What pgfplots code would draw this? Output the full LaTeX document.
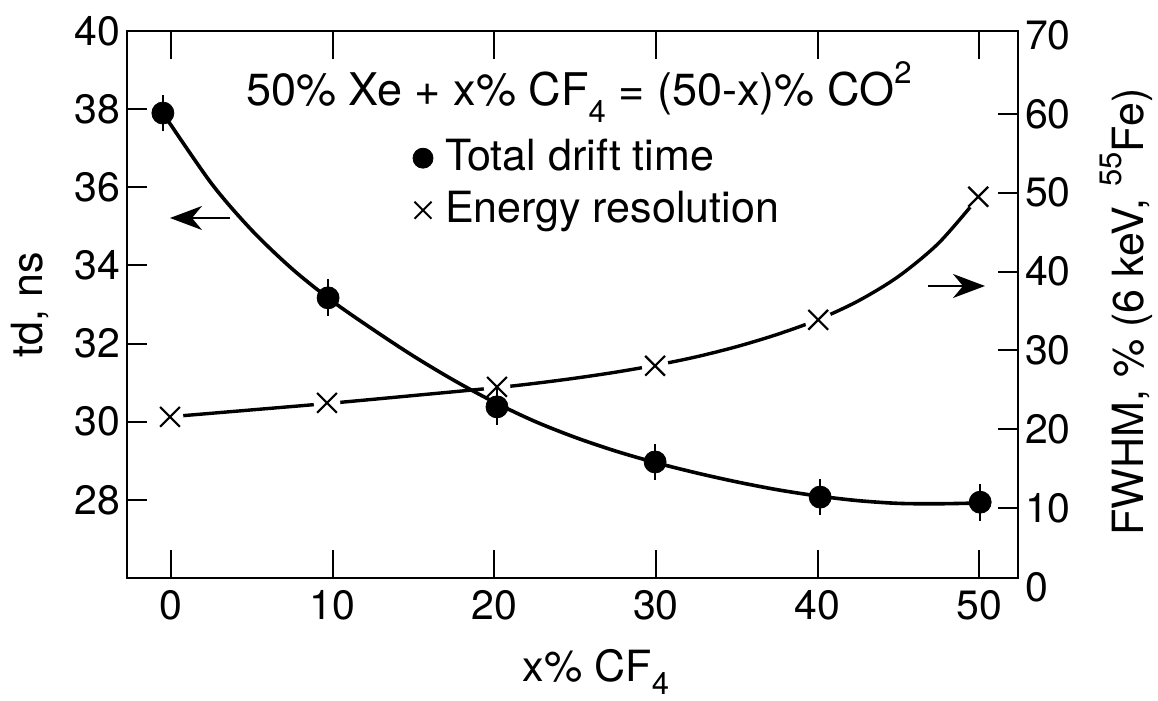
\documentclass[border=0pt]{standalone}
\usepackage{pgfplots}
\pgfplotsset{compat=1.18}
\usepackage{fontspec}
\setmainfont{TeX Gyre Heros}
\usetikzlibrary{arrows.meta}
\newcommand{\mysub}[1]{\raisebox{-0.36em}{\fontsize{15.5}{18}\selectfont #1}}
\newcommand{\mysup}[1]{\raisebox{0.5em}{\fontsize{15.5}{18}\selectfont #1}}
\begin{document}
\begin{tikzpicture}
\pgfplotsset{
  common/.style={
    scale only axis, width=445.5pt,
    xmin=-2.72, xmax=52.4,
    /pgf/number format/assume math mode=true,
    tick label style={font=\fontsize{20.5}{24}\selectfont},
    tick align=inside,
    tick style={line width=1pt, black},
  }
}
% ---------- right axis: energy resolution ----------
\begin{axis}[common, at={(0pt,-4.5pt)}, anchor=south west, height=276pt,
  ymin=0, ymax=70,
  axis line style={draw=none},
  xtick=\empty,
  ytick={10,20,...,60},
  extra y ticks={0,70},
  extra y tick style={tick style={draw=none}},
  ytick pos=right, yticklabel pos=right,
  major tick length=10pt,
  clip=false]
\addplot[black, line width=1.7pt, smooth] coordinates {
(-0.06,21.59) (5,22.46) (10,23.33) (15,24.28) (20,25.25) (22.5,25.82) (25,26.48)
(27.5,27.24) (30,28.13) (32.5,29.19) (35,30.48) (37.5,32.03) (40,33.88)
(42.5,36.26) (45,39.38) (47.5,43.63) (49.94,49.4)};
\addplot[white, only marks, mark=*, mark size=6.5pt, mark options={draw=white, fill=white}] coordinates {
(-0.06,21.57) (9.65,23.35) (20.17,25.38) (29.95,28.05) (40.04,33.88) (49.94,49.49)};
\addplot[black, only marks, mark=x, mark size=7pt, mark options={line width=1.1pt, black}] coordinates {
(-0.06,21.57) (9.65,23.35) (20.17,25.38) (29.95,28.05) (40.04,33.88) (49.94,49.49)};
\end{axis}
% ---------- left axis: total drift time ----------
\begin{axis}[common, at={(0pt,0pt)}, anchor=south west, height=273.5pt,
  ymin=26, ymax=40,
  ytick={28,30,...,40},
  xtick={0,10,...,50},
  ytick pos=left,
  axis line style={line width=1.1pt},
  xtick style={/pgfplots/major tick length=14pt},
  ytick style={/pgfplots/major tick length=10pt},
  xticklabel shift=2.5pt,
  legend style={at={(axis description cs:0.321,0.815)}, anchor=north west,
    draw=none, fill=none, inner sep=0pt, outer sep=0pt,
    nodes={inner sep=3pt, text height=16pt, text depth=4pt},
    /tikz/every odd column/.append style={column sep=3pt},
    font=\fontsize{21.5}{26}\selectfont},
  legend cell align=left,
  clip=false]
\addlegendimage{only marks, mark=*, mark size=5pt, black}
\addlegendentry{Total drift time}
\addlegendimage{only marks, mark=x, mark size=6pt, mark options={line width=1pt, black}}
\addlegendentry{Energy resolution}
\addplot[black, line width=1.8pt, smooth, forget plot] coordinates {
(-0.5,37.9) (2.5,36.1) (5,34.9) (7.5,33.91) (10,33.08) (12.5,32.36) (15,31.68)
(17.5,31.06) (20,30.5) (22.5,30.01) (25,29.6) (27.5,29.25) (30,28.95)
(32.5,28.69) (35,28.46) (37.5,28.26) (40,28.1) (42.5,27.98) (45,27.91)
(47.5,27.9) (50.06,27.92)};
\addplot[black, only marks, mark=*, mark size=5.5pt, forget plot,
  error bars/.cd, y dir=both, y explicit, error mark=none,
  error bar style={line width=1pt, black}] coordinates {
(-0.5,37.9) +- (0,0.47)
(9.72,33.17) +- (0,0.47)
(20.17,30.38) +- (0,0.47)
(29.95,28.97) +- (0,0.47)
(40.16,28.07) +- (0,0.47)
(50.06,27.94) +- (0,0.47)};
\end{axis}
% ---------- annotations ----------
\node[anchor=base, font=\fontsize{22.5}{27}\selectfont] at (226pt,236pt)
  {50\% Xe + x\% CF\mysub{4} = (50-x)\% CO\mysup{2}};
\draw[line width=1pt, -{Stealth[length=16pt,width=12pt,inset=5pt]}] (51.5pt,180pt) -- (21.5pt,180pt);
\draw[line width=1pt, -{Stealth[length=16pt,width=12pt,inset=5pt]}] (400.5pt,146pt) -- (429pt,146pt);
\node[rotate=90, anchor=base, font=\fontsize{21.5}{26}\selectfont] at (-42pt,136.75pt) {td, ns};
\node[rotate=90, anchor=base, font=\fontsize{21.5}{26}\selectfont] at (508pt,133pt)
  {FWHM, \% (6 keV, \mysup{55}Fe)};
\node[anchor=base, inner sep=0pt, font=\fontsize{21.5}{26}\selectfont] at (234.5pt,-52pt)
  {x\% CF\raisebox{-0.3em}{\fontsize{15.5}{18}\selectfont 4}};
\pgfresetboundingbox
\path[use as bounding box] (-63.5pt,-61.5pt) rectangle (515.5pt,289pt);
\end{tikzpicture}
\end{document}
